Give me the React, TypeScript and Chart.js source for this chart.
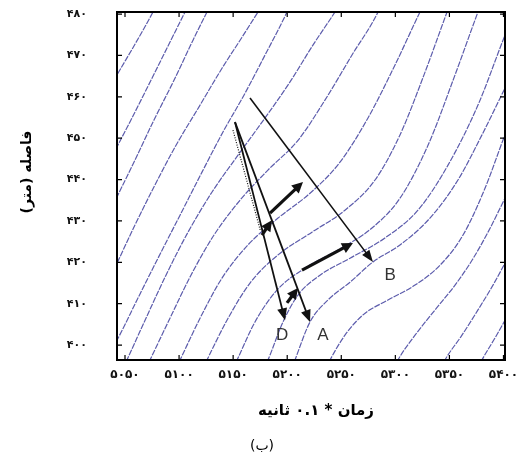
import { useEffect, useRef } from 'react';
import { Chart, registerables } from 'chart.js';

Chart.register(...registerables);

// Axes: time in units of 0.1 s, distance in metres
const timeTicks = [5050, 5100, 5150, 5200, 5250, 5300, 5350, 5400];
const distanceTicks = [400, 410, 420, 430, 440, 450, 460, 470, 480];
const timeRange = [5042.6, 5401.4];
const distanceRange = [396.4, 480.5];

const persianDigits = '۰۱۲۳۴۵۶۷۸۹';
const toPersian = (v: number) => String(v).replace(/\d/g, (c) => persianDigits[Number(c)]);

// Vehicle trajectories: [time, distance]
const veh01 = [[5026.9, 458.0], [5042.6, 465.3], [5059.2, 472.7], [5075.9, 480.5], [5079.6, 482.4]];
const veh02 = [[5029.7, 441.1], [5042.6, 447.9], [5055.5, 454.4], [5074.0, 464.0], [5092.5, 473.7], [5105.5, 480.5], [5109.2, 482.4]];
const veh03 = [[5033.4, 430.7], [5042.6, 435.8], [5059.2, 444.7], [5076.8, 454.4], [5095.3, 464.0], [5112.9, 473.7], [5125.8, 480.5], [5129.5, 482.4]];
const veh04 = [[5034.3, 415.2], [5042.6, 419.8], [5059.2, 429.0], [5077.7, 438.7], [5097.2, 448.3], [5119.4, 458.0], [5139.7, 466.9], [5158.2, 474.4], [5173.0, 480.5], [5177.6, 482.4]];
const veh05 = [[5031.5, 396.4], [5042.6, 401.2], [5061.1, 410.9], [5080.5, 421.0], [5100.9, 431.4], [5121.2, 441.8], [5140.6, 451.5], [5160.0, 460.4], [5179.5, 470.1], [5199.8, 480.5], [5202.6, 482.2]];
const veh06 = [[5048.2, 394.4], [5051.8, 396.4], [5069.4, 406.5], [5087.9, 416.9], [5108.3, 427.3], [5130.5, 437.0], [5154.5, 445.9], [5179.5, 454.9], [5202.6, 463.6], [5223.8, 472.5], [5244.2, 480.5], [5248.8, 482.4]];
const veh07 = [[5069.4, 394.4], [5073.1, 396.4], [5091.6, 406.5], [5111.0, 416.9], [5132.3, 426.6], [5156.3, 435.0], [5182.2, 442.3], [5210.0, 449.5], [5234.9, 459.2], [5259.9, 470.1], [5284.0, 480.5], [5286.7, 482.2]];
const veh08 = [[5097.2, 394.4], [5100.9, 396.4], [5119.4, 406.5], [5139.7, 416.2], [5163.7, 424.2], [5191.5, 430.7], [5221.1, 436.7], [5248.8, 444.2], [5274.7, 454.9], [5299.7, 467.7], [5322.8, 480.5], [5326.5, 482.4]];
const veh09 = [[5122.1, 394.4], [5125.8, 396.4], [5144.3, 406.0], [5165.6, 415.0], [5191.5, 421.8], [5222.9, 427.3], [5253.4, 432.6], [5281.2, 439.9], [5304.3, 450.8], [5326.5, 465.3], [5347.8, 480.5], [5350.5, 482.4]];
const veh10 = [[5149.9, 394.4], [5153.6, 396.4], [5170.2, 405.6], [5190.6, 413.3], [5216.5, 418.6], [5247.0, 423.0], [5278.4, 428.3], [5304.3, 435.5], [5330.2, 448.3], [5355.2, 465.3], [5376.4, 480.5], [5379.2, 482.4]];
const veh11 = [[5178.5, 394.4], [5182.2, 396.4], [5196.1, 405.6], [5210.0, 412.1], [5230.3, 416.9], [5258.1, 421.0], [5290.4, 425.9], [5320.9, 432.6], [5348.7, 443.5], [5376.4, 458.0], [5401.4, 474.9], [5406.0, 477.8]];
const veh12 = [[5204.4, 394.4], [5207.2, 396.4], [5221.1, 405.6], [5237.7, 410.9], [5258.1, 415.2], [5279.3, 420.1], [5304.3, 424.2], [5332.0, 430.7], [5357.9, 439.9], [5380.1, 450.8], [5401.4, 462.1], [5407.9, 465.5]];
const veh13 = [[5235.9, 394.4], [5239.6, 396.4], [5253.4, 402.4], [5270.1, 407.3], [5293.2, 410.9], [5318.2, 414.5], [5341.3, 419.3], [5362.6, 426.6], [5382.9, 437.9], [5401.4, 450.8], [5407.9, 454.9]];
const veh14 = [[5298.7, 394.4], [5302.4, 396.4], [5318.2, 402.4], [5336.7, 408.5], [5355.2, 414.5], [5370.9, 420.5], [5385.7, 427.3], [5401.4, 435.5], [5407.9, 438.9]];
const veh15 = [[5342.2, 394.4], [5345.9, 396.4], [5361.6, 402.4], [5376.4, 408.5], [5390.3, 414.5], [5401.4, 419.8], [5407.9, 423.0]];
const veh16 = [[5376.4, 394.4], [5380.1, 396.4], [5392.1, 401.7], [5401.4, 406.0], [5407.9, 409.2]];

const trajectories = [veh01, veh02, veh03, veh04, veh05, veh06, veh07, veh08, veh09, veh10, veh11, veh12, veh13, veh14, veh15, veh16];

// Shock-wave arrows: [start, end] in [time, distance]
const arrowToB = [[5165.6, 459.7], [5279.3, 420.1]];
const arrowToA = [[5151.7, 453.9], [5221.1, 405.6]];
const arrowToD = [[5151.7, 453.9], [5198.0, 406.0]];
const waveArrows = [
  [[5184.1, 431.9], [5214.6, 439.4]],
  [[5176.7, 426.6], [5185.9, 430.2]],
  [[5213.7, 418.1], [5260.8, 424.7]],
  [[5199.8, 410.2], [5210.0, 413.8]],
];
const pointLabels: [string, number, number][] = [
  ['D', 5195.2, 402.4],
  ['A', 5233.1, 402.4],
  ['B', 5295.1, 416.9],
];

const xTitle = 'زمان * ۰.۱ ثانیه';
const yTitle = 'فاصله (متر)';
const caption = '(ب)';

const PERSIAN_FONT = '"DejaVu Sans", "Noto Sans", sans-serif';

function drawArrow(
  ctx: CanvasRenderingContext2D,
  p0: number[],
  p1: number[],
  width: number,
  headLen: number,
  headHalf: number,
) {
  const dx = p1[0] - p0[0];
  const dy = p1[1] - p0[1];
  const len = Math.hypot(dx, dy);
  const ux = dx / len;
  const uy = dy / len;
  const bx = p1[0] - ux * headLen;
  const by = p1[1] - uy * headLen;
  ctx.beginPath();
  ctx.moveTo(p0[0], p0[1]);
  ctx.lineTo(bx + ux * 1, by + uy * 1);
  ctx.lineWidth = width;
  ctx.stroke();
  ctx.beginPath();
  ctx.moveTo(p1[0], p1[1]);
  ctx.lineTo(bx - uy * headHalf, by + ux * headHalf);
  ctx.lineTo(bx + uy * headHalf, by - ux * headHalf);
  ctx.closePath();
  ctx.fill();
}

const overlayPlugin = {
  id: 'overlay',
  afterDatasetsDraw(chart: any) {
    const { ctx, chartArea: a, scales } = chart;
    const xs = scales.x;
    const ys = scales.y;
    const px = (p: number[]) => [xs.getPixelForValue(p[0]), ys.getPixelForValue(p[1])];
    ctx.save();
    ctx.strokeStyle = '#111';
    ctx.fillStyle = '#111';
    ctx.lineCap = 'butt';

    // thin arrows toward points D, A, B
    drawArrow(ctx, px(arrowToB[0]), px(arrowToB[1]), 1.6, 12, 4.5);
    drawArrow(ctx, px(arrowToA[0]), px(arrowToA[1]), 1.8, 12, 5);
    drawArrow(ctx, px(arrowToD[0]), px(arrowToD[1]), 1.8, 12, 5);

    // hatched edge along the D arrow
    const d0 = px(arrowToD[0]);
    const d1 = px(arrowToD[1]);
    ctx.save();
    ctx.setLineDash([1, 1.5]);
    ctx.lineWidth = 1.2;
    ctx.beginPath();
    ctx.moveTo(d0[0] - 2, d0[1] + 8);
    ctx.lineTo(d0[0] + (d1[0] - d0[0]) * 0.55 - 2, d0[1] + (d1[1] - d0[1]) * 0.55);
    ctx.stroke();
    ctx.restore();

    // thick wave-propagation arrows
    for (const w of waveArrows) {
      drawArrow(ctx, px(w[0]), px(w[1]), 3.2, 11, 5.5);
    }

    // point labels
    ctx.font = '17px "Liberation Sans", Arial, sans-serif';
    ctx.fillStyle = '#333';
    ctx.textAlign = 'center';
    ctx.textBaseline = 'middle';
    for (const [t, tx, ty] of pointLabels) {
      const p = px([tx, ty]);
      ctx.fillText(t, p[0], p[1]);
    }

    // frame with inward ticks on all sides
    ctx.strokeStyle = '#000';
    ctx.lineWidth = 2;
    ctx.strokeRect(a.left, a.top, a.right - a.left, a.bottom - a.top);
    ctx.lineWidth = 1.2;
    ctx.beginPath();
    for (const v of timeTicks) {
      const x = xs.getPixelForValue(v);
      ctx.moveTo(x, a.top);
      ctx.lineTo(x, a.top + 5);
      ctx.moveTo(x, a.bottom);
      ctx.lineTo(x, a.bottom - 5);
    }
    for (const v of distanceTicks) {
      const y = ys.getPixelForValue(v);
      ctx.moveTo(a.left, y);
      ctx.lineTo(a.left + 5, y);
      ctx.moveTo(a.right, y);
      ctx.lineTo(a.right - 5, y);
    }
    ctx.stroke();
    ctx.restore();
  },
  afterDraw(chart: any) {
    const { ctx, chartArea: a, width } = chart;
    ctx.save();
    ctx.fillStyle = '#000';
    ctx.textBaseline = 'middle';
    ctx.textAlign = 'center';
    ctx.direction = 'rtl';

    ctx.font = `bold 15px ${PERSIAN_FONT}`;
    ctx.fillText(xTitle, (a.left + a.right) / 2 + 5, a.bottom + 51);

    ctx.font = `14px ${PERSIAN_FONT}`;
    ctx.fillText(caption, width / 2, a.bottom + 86);

    ctx.translate(27, (a.top + a.bottom) / 2 - 14);
    ctx.rotate(-Math.PI / 2);
    ctx.font = `bold 14px ${PERSIAN_FONT}`;
    ctx.fillText(yTitle, 0, 0);
    ctx.restore();
  },
};

export default function App() {
  const canvasRef = useRef<HTMLCanvasElement | null>(null);

  useEffect(() => {
    const canvas = canvasRef.current;
    if (!canvas) return;
    const chart = new Chart(canvas, {
      type: 'scatter',
      data: {
        datasets: trajectories.map((tr) => ({
          data: tr.map(([t, d]) => ({ x: t, y: d })),
          showLine: true,
          borderColor: '#5c5cac',
          borderWidth: 1.2,
          borderDash: [6, 1.2],
          pointRadius: 0,
          pointHoverRadius: 0,
          cubicInterpolationMode: 'monotone',
          fill: false,
        })),
      },
      options: {
        responsive: false,
        animation: false,
        devicePixelRatio: 1,
        layout: { padding: { top: 12, right: 19, left: 0, bottom: 0 } },
        plugins: {
          legend: { display: false },
          tooltip: { enabled: false },
        },
        scales: {
          x: {
            type: 'linear',
            min: timeRange[0],
            max: timeRange[1],
            afterBuildTicks: (s: any) => {
              s.ticks = timeTicks.map((v) => ({ value: v }));
            },
            afterFit: (s: any) => {
              s.height = 102;
              s.paddingLeft = 0;
              s.paddingRight = 0;
            },
            ticks: {
              callback: (v: any) => toPersian(Number(v)),
              color: '#111',
              font: { family: PERSIAN_FONT, size: 12, weight: 'bold' },
              padding: 8,
              maxRotation: 0,
              autoSkip: false,
            },
            grid: { display: false, drawTicks: false },
            border: { display: false },
          },
          y: {
            type: 'linear',
            min: distanceRange[0],
            max: distanceRange[1],
            afterBuildTicks: (s: any) => {
              s.ticks = distanceTicks.map((v) => ({ value: v }));
            },
            afterFit: (s: any) => {
              s.width = 117;
              s.paddingTop = 0;
              s.paddingBottom = 0;
            },
            ticks: {
              callback: (v: any) => toPersian(Number(v)),
              color: '#111',
              font: { family: PERSIAN_FONT, size: 11, weight: 'bold' },
              padding: 30,
              autoSkip: false,
            },
            grid: { display: false, drawTicks: false },
            border: { display: false },
          },
        },
      },
      plugins: [overlayPlugin],
    });
    return () => chart.destroy();
  }, []);

  return (
    <div style={{ position: 'absolute', left: 0, top: 0, width: 524, height: 462, background: '#fff' }}>
      <canvas ref={canvasRef} width={524} height={462} />
    </div>
  );
}
